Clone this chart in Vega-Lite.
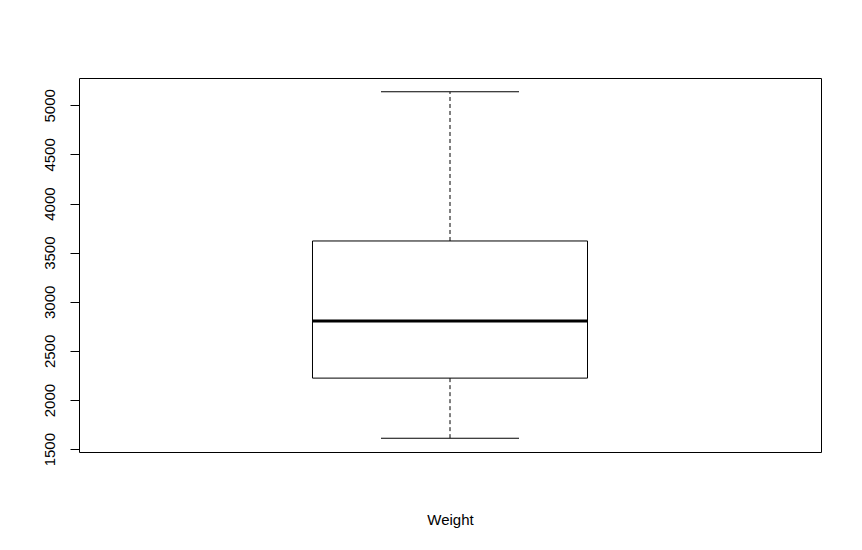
{
  "$schema": "https://vega.github.io/schema/vega-lite/v6.json",
  "autosize": "none",
  "padding": {"left": 79, "top": 78, "right": 41, "bottom": 98},
  "width": 742,
  "height": 374,
  "background": "white",
  "config": {
    "view": {"stroke": "black", "strokeWidth": 1},
    "font": "Liberation Sans"
  },
  "data": {"values": [
    {"variable": "Weight", "lower": 1612, "q1": 2223, "median": 2804, "q3": 3619, "upper": 5137}
  ]},
  "encoding": {
    "x": {
      "field": "variable", "type": "nominal",
      "scale": {"type": "band", "paddingInner": 0, "paddingOuter": 0.849},
      "axis": {"labels": false, "ticks": false, "domain": false, "title": "Weight", "titleFontSize": 15, "titleFontWeight": "normal", "titleColor": "black", "titlePadding": 60, "titleFont": "Liberation Sans"}
    }
  },
  "layer": [
    {
      "mark": {"type": "rule", "color": "black", "opacity": 1, "strokeWidth": 1, "strokeDash": [4, 3]},
      "encoding": {
        "y": {"field": "lower", "type": "quantitative",
          "scale": {"domain": [1471, 5278], "nice": false, "zero": false},
          "axis": {"values": [1500, 2000, 2500, 3000, 3500, 4000, 4500, 5000], "format": "d", "grid": false, "domain": false, "tickColor": "black", "tickSize": 9, "labelAngle": -90, "labelAlign": "center", "labelBaseline": "bottom", "labelPadding": 13, "labelFontSize": 15, "labelColor": "black", "labelFont": "Liberation Sans", "title": null}},
        "y2": {"field": "q1"}
      }
    },
    {
      "mark": {"type": "rule", "color": "black", "opacity": 1, "strokeWidth": 1, "strokeDash": [4, 3]},
      "encoding": {
        "y": {"field": "q3", "type": "quantitative"},
        "y2": {"field": "upper"}
      }
    },
    {
      "mark": {"type": "tick", "color": "black", "opacity": 1, "thickness": 1, "size": 138, "orient": "horizontal"},
      "encoding": {"y": {"field": "lower", "type": "quantitative"}}
    },
    {
      "mark": {"type": "tick", "color": "black", "opacity": 1, "thickness": 1, "size": 138, "orient": "horizontal"},
      "encoding": {"y": {"field": "upper", "type": "quantitative"}}
    },
    {
      "mark": {"type": "bar", "fill": "white", "opacity": 1, "stroke": "black", "strokeWidth": 1},
      "encoding": {
        "y": {"field": "q1", "type": "quantitative"},
        "y2": {"field": "q3"}
      }
    },
    {
      "mark": {"type": "tick", "color": "black", "opacity": 1, "thickness": 3, "size": 275, "orient": "horizontal"},
      "encoding": {"y": {"field": "median", "type": "quantitative"}}
    }
  ]
}
